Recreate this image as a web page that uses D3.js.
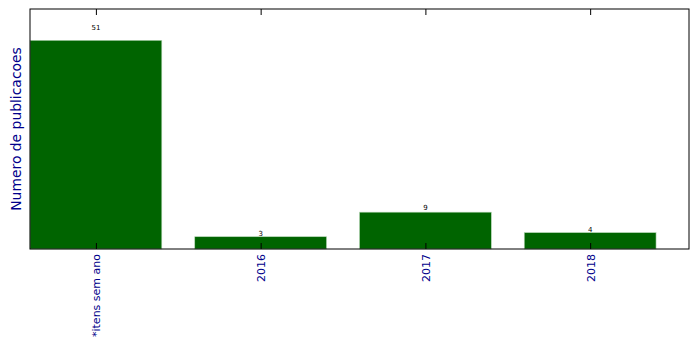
<!DOCTYPE html>
<html>
<head>
<meta charset="utf-8">
<script src="https://cdn.jsdelivr.net/npm/d3@7"></script>
<style>
  body { margin: 0; background: #fff; }
  svg { display: block; font-family: "DejaVu Sans", sans-serif; }
</style>
</head>
<body>
<script>
/* Data */
var categories = ["*itens sem ano", "2016", "2017", "2018"];
var counts = [51, 3, 9, 4];

/* Layout */
var WIDTH = 699, HEIGHT = 349;
var margin = {top: 9, right: 10, bottom: 100, left: 30};
var innerW = WIDTH - margin.left - margin.right;
var innerH = HEIGHT - margin.top - margin.bottom;
var BAR_W = 0.8;

var svg = d3.select("body").append("svg")
    .attr("width", WIDTH)
    .attr("height", HEIGHT);

var g = svg.append("g")
    .attr("transform", "translate(" + margin.left + "," + margin.top + ")");

var x = d3.scaleLinear()
    .domain([-BAR_W / 2, categories.length - 1 + BAR_W / 2 + 0.2])
    .range([0, innerW]);

var y = d3.scaleLinear()
    .domain([0, d3.max(counts) * 1.15])
    .range([innerH, 0]);

// bars
g.selectAll(".bar")
    .data(counts)
  .enter().append("rect")
    .attr("class", "bar")
    .attr("x", (d, i) => x(i - BAR_W / 2))
    .attr("width", (d, i) => x(i + BAR_W / 2) - x(i - BAR_W / 2))
    .attr("y", d => y(d))
    .attr("height", d => innerH - y(d))
    .attr("fill", "#006400")
    .attr("stroke", "#b5d6b5")
    .attr("stroke-width", 0.6);

// value labels
g.selectAll(".val")
    .data(counts)
  .enter().append("text")
    .attr("class", "val")
    .attr("x", (d, i) => x(i))
    .attr("y", d => y(d * 1.05))
    .attr("text-anchor", "middle")
    .attr("font-size", "7px")
    .attr("fill", "#000")
    .text(d => d);

// bottom axis, ticks pointing inward
var xAxis = d3.axisBottom(x)
    .tickValues(d3.range(categories.length))
    .tickFormat(i => categories[i])
    .tickSizeInner(-6)
    .tickSizeOuter(0);

var ax = g.append("g")
    .attr("transform", "translate(0," + innerH + ")")
    .call(xAxis);
ax.select(".domain").remove();
ax.selectAll(".tick line").attr("stroke", "#000");
ax.selectAll(".tick text")
    .attr("transform", "rotate(-90)")
    .attr("text-anchor", "end")
    .attr("x", -5)
    .attr("y", 0)
    .attr("dy", "0.35em")
    .attr("font-size", "11px")
    .attr("font-family", "DejaVu Sans")
    .attr("fill", "darkblue");

// top ticks
var topAxis = g.append("g")
    .call(d3.axisTop(x)
        .tickValues(d3.range(categories.length))
        .tickFormat("")
        .tickSizeInner(-6)
        .tickSizeOuter(0));
topAxis.select(".domain").remove();
topAxis.selectAll(".tick line").attr("stroke", "#000");

// frame
g.append("rect")
    .attr("width", innerW)
    .attr("height", innerH)
    .attr("fill", "none")
    .attr("stroke", "#000")
    .attr("stroke-width", 1);

// y label
svg.append("text")
    .attr("transform", "translate(21," + (margin.top + innerH / 2) + ") rotate(-90)")
    .attr("text-anchor", "middle")
    .attr("font-size", "13.9px")
    .attr("fill", "darkblue")
    .text("Numero de publicacoes");
</script>
</body>
</html>
